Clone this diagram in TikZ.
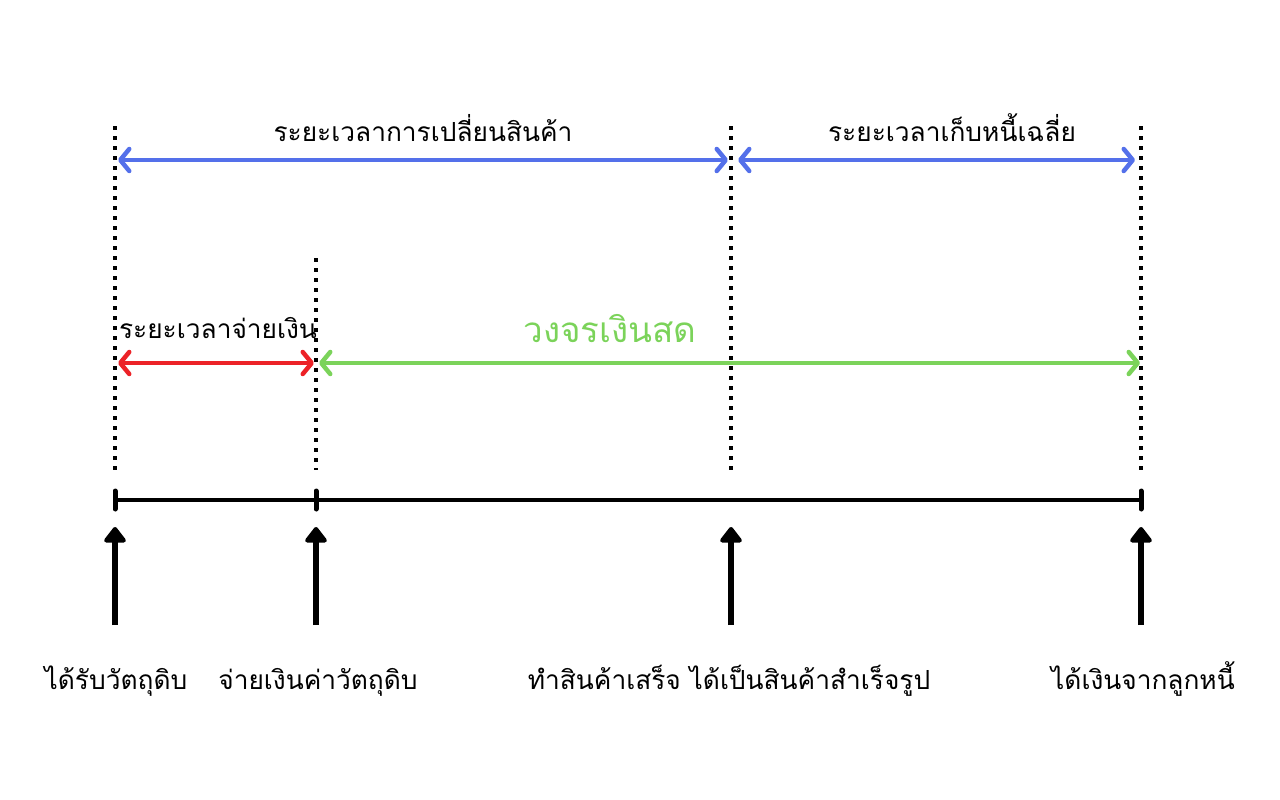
\documentclass[tikz,border=0pt]{standalone}
\usepackage{fontspec}
\newfontfamily\thaifont[Script=Thai]{Loma}
\usetikzlibrary{arrows.meta}
\definecolor{cblue}{HTML}{5470EA}
\definecolor{cred}{HTML}{EC2227}
\definecolor{cgreen}{HTML}{7BD35A}
\tikzset{
  lbl/.style={font=\thaifont\fontsize{26.3}{31}\selectfont, inner sep=0pt, anchor=base},
  guide/.style={line width=4.2pt, dash pattern=on 4pt off 6pt},
  span/.style={line width=4.5pt, line cap=round, {Straight Barb[length=9pt,width=22pt,line width=4.5pt,round]}-{Straight Barb[length=9pt,width=22pt,line width=4.5pt,round]}},
  uparrow/.style={line width=5.5pt, -{Triangle[length=17pt,width=25pt,round]}},
  tick/.style={line width=5pt, line cap=round}
}
\begin{document}
\begin{tikzpicture}[x=1pt,y=-1pt]
\useasboundingbox (0,0) rectangle (1280,800);
% time points
\coordinate (tA) at (115,500);
\coordinate (tB) at (316,500);
\coordinate (tC) at (731,500);
\coordinate (tD) at (1141,500);
% guide tops / bottoms
\coordinate (gAt) at (115,126);
\coordinate (gBt) at (316,258);
\coordinate (gCt) at (731,126);
\coordinate (gDt) at (1141,126);
\coordinate (gAb) at (115,470);
\coordinate (gBb) at (316,470);
\coordinate (gCb) at (731,470);
\coordinate (gDb) at (1141,470);
\draw[guide] (gAt) -- (gAb);
\draw[guide] (gBt) -- (gBb);
\draw[guide] (gCt) -- (gCb);
\draw[guide] (gDt) -- (gDb);
% span arrows
\coordinate (b1s) at (118,160);
\coordinate (b1e) at (728,160);
\coordinate (b2s) at (738,160);
\coordinate (b2e) at (1135,160);
\draw[span, cblue] (b1s) -- (b1e);
\draw[span, cblue] (b2s) -- (b2e);
\coordinate (r1s) at (118,363);
\coordinate (r1e) at (314,363);
\coordinate (g1s) at (319,363);
\coordinate (g1e) at (1140,363);
\draw[span, cgreen] (g1s) -- (g1e);
\draw[span, cred] (r1s) -- (r1e);
% timeline
\draw[line width=4.5pt] (tA) -- (tD);
\draw[tick] ([yshift=-9]tA) -- ([yshift=9]tA);
\draw[tick] ([yshift=-9]tB) -- ([yshift=9]tB);
\draw[tick] ([yshift=-9]tD) -- ([yshift=9]tD);
% up arrows
\foreach \n/\x in {a/115,b/316,c/731,d/1141}{
  \coordinate (u\n s) at (\x,625);
  \coordinate (u\n e) at (\x,527);
  \draw[uparrow] (u\n s) -- (u\n e);
}
% labels
\node[lbl] (L1) at (423,141) {ระยะเวลาการเปลี่ยนสินค้า};
\node[lbl] (L2) at (952,141) {ระยะเวลาเก็บหนี้เฉลี่ย};
\node[lbl] (L3) at (218,338) {ระยะเวลาจ่ายเงิน};
\node[lbl, text=cgreen, font=\thaifont\fontsize{35}{40}\selectfont] (L4) at (610,342) {วงจรเงินสด};
\node[lbl] (B1) at (116,689) {ได้รับวัตถุดิบ};
\node[lbl] (B2) at (318,689) {จ่ายเงินค่าวัตถุดิบ};
\node[lbl] (B3) at (729,689) {ทำสินค้าเสร็จ ได้เป็นสินค้าสำเร็จรูป};
\node[lbl] (B4) at (1143,689) {ได้เงินจากลูกหนี้};
\end{tikzpicture}
\end{document}
